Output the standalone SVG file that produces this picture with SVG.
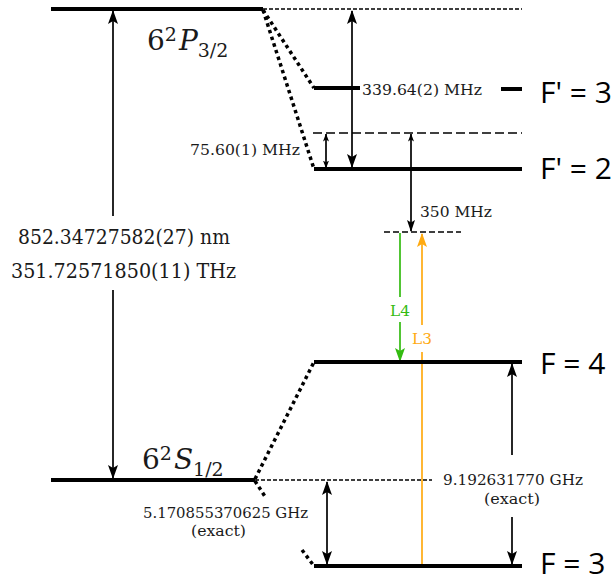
<svg xmlns="http://www.w3.org/2000/svg" width="616" height="581" viewBox="0 0 616 581">
<style>
.lvl{stroke:#000;stroke-width:4;fill:none}
.dot{stroke:#000;stroke-width:3.5;stroke-dasharray:3.5 3.5;fill:none}
.dsh{stroke:#000;stroke-width:1.3;fill:none}
.arr{stroke:#000;stroke-width:1.7;fill:none}
.ser{font-family:"DejaVu Serif","Liberation Serif",serif;fill:#1a1a1a}
.sans{font-family:"Open Sans","Noto Sans",sans-serif;fill:#000;font-size:30px}
</style>
<defs>
<marker id="ah" viewBox="0 0 14 10" refX="13" refY="5" markerWidth="14" markerHeight="10" markerUnits="userSpaceOnUse" orient="auto-start-reverse"><path d="M0,0 L14,5 L0,10 L3,5 z" fill="#000"/></marker>
<marker id="am" viewBox="0 0 12 8" refX="11" refY="4" markerWidth="12" markerHeight="8" markerUnits="userSpaceOnUse" orient="auto-start-reverse"><path d="M0,0 L12,4 L0,8 L2.5,4 z" fill="#000"/></marker>
<marker id="as" viewBox="0 0 8 6" refX="7.5" refY="3" markerWidth="8" markerHeight="6" markerUnits="userSpaceOnUse" orient="auto-start-reverse"><path d="M0,0 L8,3 L0,6 L2,3 z" fill="#000"/></marker>
<marker id="ag" viewBox="0 0 14 10" refX="13" refY="5" markerWidth="14" markerHeight="10" markerUnits="userSpaceOnUse" orient="auto"><path d="M0,0 L14,5 L0,10 L3,5 z" fill="#33bb11"/></marker>
<marker id="ao" viewBox="0 0 14 10" refX="13" refY="5" markerWidth="14" markerHeight="10" markerUnits="userSpaceOnUse" orient="auto"><path d="M0,0 L14,5 L0,10 L3,5 z" fill="#ffaa11"/></marker>
</defs>

<g id="connectors">
<line class="dsh" x1="263" y1="9" x2="522" y2="9" stroke-dasharray="4 2"/>
<line class="dsh" x1="313" y1="133" x2="522" y2="133" stroke-dasharray="9 4"/>
<line class="dsh" x1="384" y1="232" x2="461" y2="232" stroke-dasharray="6 3"/>
<line class="dsh" x1="255" y1="480" x2="432" y2="480" stroke-dasharray="4 2"/>
<line class="dot" x1="263" y1="10" x2="314" y2="88"/>
<line class="dot" x1="263" y1="10" x2="314" y2="169"/>
<line class="dot" x1="255" y1="479" x2="314" y2="362"/>
<line class="dot" x1="255" y1="481" x2="266" y2="498"/>
<line class="dot" x1="302" y1="550" x2="314" y2="566"/>
<line class="arr" x1="113" y1="11" x2="113" y2="216" marker-start="url(#ah)"/>
<line class="arr" x1="113" y1="290" x2="113" y2="478" marker-end="url(#ah)"/>
<line class="arr" x1="352" y1="11" x2="352" y2="167" marker-start="url(#ah)" marker-end="url(#ah)"/>
<line class="arr" x1="326" y1="134" x2="326" y2="168" stroke-width="1.3" marker-start="url(#as)" marker-end="url(#as)"/>
<line class="arr" x1="411" y1="134" x2="411" y2="231" stroke-width="1.4" marker-start="url(#as)" marker-end="url(#am)"/>
<line class="arr" x1="512" y1="364" x2="512" y2="455" marker-start="url(#ah)"/>
<line class="arr" x1="512" y1="517" x2="512" y2="564" marker-end="url(#ah)"/>
<line class="arr" x1="327" y1="482" x2="327" y2="564" marker-start="url(#ah)" marker-end="url(#ah)"/>
<line x1="400" y1="233" x2="400" y2="297" stroke="#33bb11" stroke-width="1.7"/>
<line x1="400" y1="322" x2="400" y2="361" stroke="#33bb11" stroke-width="1.7" marker-end="url(#ag)"/>
<line x1="422" y1="566" x2="422" y2="352" stroke="#ffaa11" stroke-width="1.7"/>
<line x1="422" y1="325" x2="422" y2="234" stroke="#ffaa11" stroke-width="1.7" marker-end="url(#ao)"/>
</g>

<g id="P32">
<line class="lvl" x1="51" y1="9" x2="263" y2="9"/>
<text class="ser" x="147" y="50" font-size="28">6<tspan font-size="19" dy="-9">2</tspan><tspan font-style="italic" dy="9" dx="2">P</tspan><tspan font-size="19" dy="7">3/2</tspan></text>
</g>
<g id="Fp3">
<line class="lvl" x1="314" y1="88" x2="360" y2="88"/>
<line class="lvl" x1="501" y1="89" x2="522" y2="89"/>
<text class="sans" x="540" y="103">F' = 3</text>
</g>
<g id="Fp2">
<line class="lvl" x1="314" y1="169" x2="522" y2="169"/>
<text class="sans" x="540" y="179">F' = 2</text>
</g>
<g id="F4">
<line class="lvl" x1="314" y1="362" x2="522" y2="362"/>
<text class="sans" x="540" y="374">F = 4</text>
</g>
<g id="F3">
<line class="lvl" x1="314" y1="566" x2="522" y2="566"/>
<text class="sans" x="540" y="574">F = 3</text>
</g>
<g id="S12">
<line class="lvl" x1="51" y1="480" x2="255" y2="480"/>
<text class="ser" x="142" y="469" font-size="28">6<tspan font-size="19" dy="-9">2</tspan><tspan font-style="italic" dy="9" dx="2">S</tspan><tspan font-size="19" dy="7">1/2</tspan></text>
</g>

<g id="labels">
<text class="ser" x="18" y="244" font-size="19.5" textLength="212" lengthAdjust="spacingAndGlyphs">852.34727582(27) nm</text>
<text class="ser" x="11" y="278" font-size="19.5" textLength="225" lengthAdjust="spacingAndGlyphs">351.72571850(11) THz</text>
<text class="ser" x="362" y="95" font-size="15.3" textLength="120" lengthAdjust="spacingAndGlyphs">339.64(2) MHz</text>
<text class="ser" x="190" y="155" font-size="15.3" textLength="110" lengthAdjust="spacingAndGlyphs">75.60(1) MHz</text>
<text class="ser" x="420" y="217" font-size="15.3" textLength="72" lengthAdjust="spacingAndGlyphs">350 MHz</text>
<text class="ser" x="400" y="316" font-size="15.3" text-anchor="middle" style="fill:#33bb11">L4</text>
<text class="ser" x="422" y="344" font-size="15.3" text-anchor="middle" style="fill:#ffaa11">L3</text>
<text class="ser" x="143" y="518" font-size="15.3" textLength="165" lengthAdjust="spacingAndGlyphs">5.170855370625 GHz</text>
<text class="ser" x="191" y="536" font-size="15.3" textLength="55" lengthAdjust="spacingAndGlyphs">(exact)</text>
<text class="ser" x="443" y="485" font-size="15.3" textLength="140" lengthAdjust="spacingAndGlyphs">9.192631770 GHz</text>
<text class="ser" x="484" y="504" font-size="15.3" textLength="56" lengthAdjust="spacingAndGlyphs">(exact)</text>
</g>
</svg>
